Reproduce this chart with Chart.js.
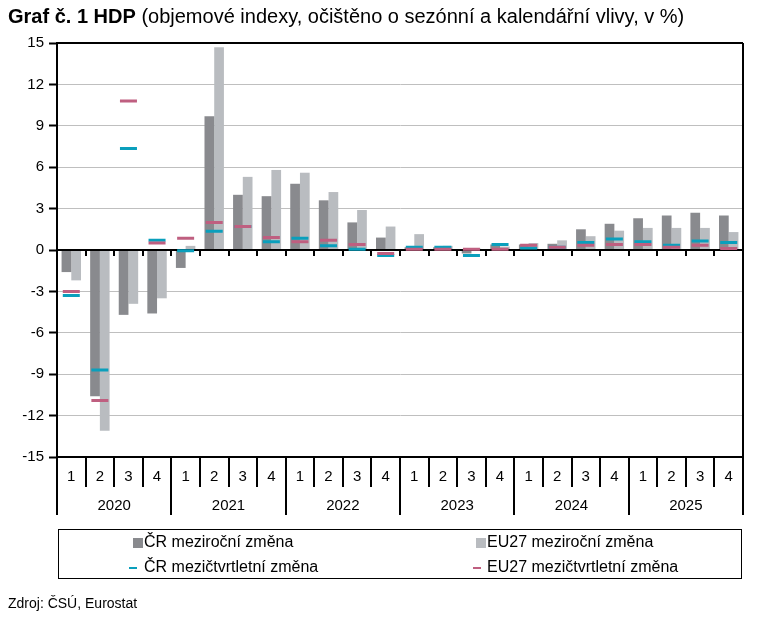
<!DOCTYPE html>
<html lang="cs">
<head>
<meta charset="utf-8">
<title>Graf č. 1 HDP</title>
<script src="https://cdn.jsdelivr.net/npm/chart.js@4.4.1/dist/chart.umd.min.js"></script>
<style>
  body { margin: 0; background: #fff; font-family: "Liberation Sans", Arial, sans-serif; color: #000; }
  #wrap { position: relative; width: 766px; height: 621px; overflow: hidden; }
  #chart { position: absolute; left: 0; top: 0; }
  #title { position: absolute; left: 8px; top: 5px; font-size: 20px; white-space: nowrap; }
  #legend { position: absolute; left: 58px; top: 529px; width: 684px; height: 50px; border: 1px solid #000; box-sizing: border-box; }
  .item { position: absolute; font-size: 16px; line-height: 18px; white-space: nowrap; }
  .sw { position: absolute; }
  #source { position: absolute; left: 8px; top: 595px; font-size: 14px; white-space: nowrap; }
</style>
</head>
<body>
<div id="wrap">
  <canvas id="chart" width="766" height="621"></canvas>
  <div id="title"><b>Graf č. 1 HDP</b> (objemové indexy, očištěno o sezónní a kalendářní vlivy, v %)</div>
  <div id="legend"></div>
  <div id="source">Zdroj: ČSÚ, Eurostat</div>
</div>
<script>
// years and quarters on the x axis
const years = ['2020', '2021', '2022', '2023', '2024', '2025'];
const quarterLabels = ['1', '2', '3', '4'];
const yTicks = [-15, -12, -9, -6, -3, 0, 3, 6, 9, 12, 15];

// values (%)
const czYoY = [-1.6, -10.6, -4.7, -4.6, -1.3, 9.7, 4.0, 3.9, 4.8, 3.6, 2.0, 0.9,
               0.2, 0.2, -0.25, 0.4, 0.4, 0.45, 1.5, 1.9, 2.3, 2.5, 2.7, 2.5];
const euYoY = [-2.2, -13.1, -3.9, -3.5, 0.3, 14.7, 5.3, 5.8, 5.6, 4.2, 2.9, 1.7,
               1.15, 0.3, 0.1, 0.25, 0.5, 0.7, 1.0, 1.4, 1.6, 1.6, 1.6, 1.3];
const czQoQ = [-3.3, -8.7, 7.35, 0.7, -0.05, 1.35, 1.7, 0.6, 0.85, 0.3, 0.05, -0.4,
               0.2, 0.2, -0.4, 0.4, 0.15, 0.2, 0.55, 0.8, 0.6, 0.35, 0.65, 0.55];
const euQoQ = [-3.0, -10.9, 10.8, 0.5, 0.85, 2.0, 1.7, 0.9, 0.6, 0.7, 0.4, -0.25,
               0.05, 0.05, 0.05, 0.05, 0.35, 0.2, 0.35, 0.4, 0.4, 0.2, 0.35, 0.1];

const seriesNames = ['ČR meziroční změna', 'EU27 meziroční změna', 'ČR mezičtvrtletní změna', 'EU27 mezičtvrtletní změna'];
const colors = ['#898a8e', '#b9bcc0', '#0a9fbc', '#bf5f80'];

const labels = [];
years.forEach(y => quarterLabels.forEach(q => labels.push(y + ' Q' + q)));

// frame, zero line and the two-level category axis
const framePlugin = {
    id: 'frame',
    beforeDatasetDraw(chart, args) {
        if (args.index !== 2) return;
        const ctx = chart.ctx;
        const a = chart.chartArea;
        const y0 = chart.scales.y.getPixelForValue(0);
        const xs = chart.scales.x;
        ctx.save();
        ctx.strokeStyle = '#000';
        ctx.lineWidth = 2;
        ctx.beginPath();
        ctx.moveTo(a.left, y0);
        ctx.lineTo(a.right, y0);
        for (let i = 1; i < labels.length; i++) {
            const x = Math.round((xs.getPixelForValue(i - 1) + xs.getPixelForValue(i)) / 2);
            ctx.moveTo(x, y0);
            ctx.lineTo(x, y0 + 6);
        }
        ctx.stroke();
        ctx.restore();
    },
    afterDraw(chart) {
        const ctx = chart.ctx;
        const a = chart.chartArea;
        const xs = chart.scales.x;
        const step = (a.right - a.left) / labels.length;
        ctx.save();
        ctx.strokeStyle = '#000';
        ctx.lineWidth = 2;
        ctx.beginPath();
        // top, bottom
        ctx.moveTo(a.left, a.top); ctx.lineTo(a.right, a.top);
        ctx.moveTo(a.left, a.bottom); ctx.lineTo(a.right, a.bottom);
        // separators; outer edges run up to the top
        for (let i = 0; i <= labels.length; i++) {
            const x = Math.round(a.left + i * step);
            const yearEdge = i % quarterLabels.length === 0;
            const outer = i === 0 || i === labels.length;
            ctx.moveTo(x, outer ? a.top : a.bottom);
            ctx.lineTo(x, a.bottom + (yearEdge ? 58 : 30));
        }
        ctx.stroke();
        ctx.fillStyle = '#000';
        ctx.textAlign = 'center';
        ctx.textBaseline = 'middle';
        ctx.font = '15px "Liberation Sans", Arial, sans-serif';
        labels.forEach((l, i) => {
            ctx.fillText(quarterLabels[i % quarterLabels.length], xs.getPixelForValue(i), a.bottom + 20);
        });
        years.forEach((y, j) => {
            const x = a.left + (j + 0.5) * quarterLabels.length * step;
            ctx.fillText(y, x, a.bottom + 49);
        });
        ctx.restore();
    }
};

const markerSet = (idx, values, order) => ({
    type: 'line',
    label: seriesNames[idx],
    data: values,
    showLine: false,
    pointStyle: 'line',
    pointRadius: 8.5,
    pointHoverRadius: 8.5,
    pointBorderWidth: 3,
    pointHoverBorderWidth: 3,
    borderColor: colors[idx],
    backgroundColor: colors[idx],
    order: order
});

new Chart(document.getElementById('chart'), {
    type: 'bar',
    data: {
        labels: labels,
        datasets: [
            { label: seriesNames[0], data: czYoY, backgroundColor: colors[0], order: 2,
              categoryPercentage: 0.68, barPercentage: 1.0 },
            { label: seriesNames[1], data: euYoY, backgroundColor: colors[1], order: 2,
              categoryPercentage: 0.68, barPercentage: 1.0 },
            markerSet(2, czQoQ, 1),
            markerSet(3, euQoQ, 0)
        ]
    },
    options: {
        responsive: false,
        animation: false,
        events: [],
        layout: { padding: { top: 43, right: 23, bottom: 164, left: 0 } },
        plugins: {
            legend: { display: false },
            tooltip: { enabled: false }
        },
        scales: {
            x: {
                type: 'category',
                offset: true,
                grid: { display: false },
                border: { display: false },
                ticks: { display: false },
                afterFit: (s) => { s.height = 0; }
            },
            y: {
                min: -15,
                max: 15,
                afterBuildTicks: (s) => { s.ticks = yTicks.map(v => ({ value: v })); },
                afterFit: (s) => { s.width = 57; },
                ticks: {
                    color: '#000',
                    padding: 5,
                    font: { family: '"Liberation Sans", Arial, sans-serif', size: 15 }
                },
                grid: {
                    color: '#bfbfbf',
                    lineWidth: 1,
                    tickColor: '#000',
                    tickWidth: 2,
                    tickLength: 8
                },
                border: { display: true, color: '#000', width: 2 }
            }
        }
    },
    plugins: [framePlugin]
});

// legend built from the dataset names and colours
const legend = document.getElementById('legend');
const spots = [
    { x: 74, y: 13, text: 85 }, { x: 417, y: 13, text: 428 },
    { x: 70, y: 38, text: 85 }, { x: 414, y: 38, text: 428 }
];
seriesNames.forEach((name, i) => {
    const s = spots[i];
    const sw = document.createElement('div');
    sw.className = 'sw';
    if (i < 2) {
        sw.style.cssText = `left:${s.x}px;top:${s.y - 5}px;width:10px;height:10px;background:${colors[i]}`;
    } else {
        sw.style.cssText = `left:${s.x}px;top:${s.y - 1}px;width:8px;height:2px;background:${colors[i]}`;
    }
    legend.appendChild(sw);
    const t = document.createElement('div');
    t.className = 'item';
    t.style.left = s.text + 'px';
    t.style.top = (s.y - 10) + 'px';
    t.textContent = name;
    legend.appendChild(t);
});
</script>
</body>
</html>
